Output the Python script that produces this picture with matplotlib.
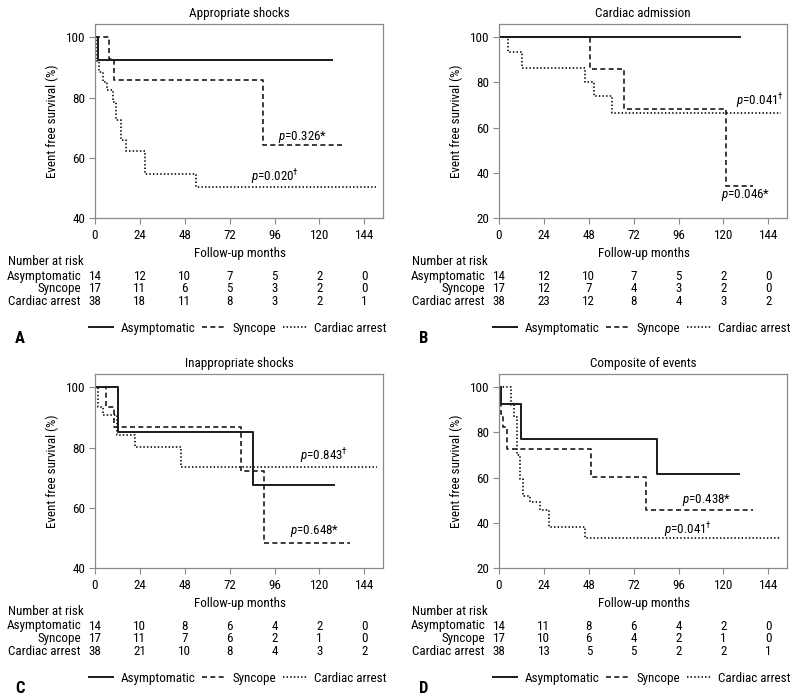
"""
Kaplan-Meier curves by presentation group, with number-at-risk tables (panels A-D)
"""
import matplotlib
matplotlib.use("Agg")
import matplotlib.pyplot as plt
from matplotlib.lines import Line2D

FONT = "Roboto Condensed"
plt.rcParams["font.family"] = [FONT, "DejaVu Sans"]
plt.rcParams["mathtext.fontset"] = "custom"
plt.rcParams["mathtext.rm"] = FONT
plt.rcParams["mathtext.it"] = FONT + ":italic"

W, H = 797, 700
FS = 9.4

# ---- data ----
groups = ["Asymptomatic", "Syncope", "Cardiac arrest"]
x_ticks = [0, 24, 48, 72, 96, 120, 144]

# A: appropriate shocks (months, event-free %; last point = end of follow-up)
a_asym_t = [0, 1.8, 127]
a_asym_s = [100, 92.3, 92.3]
a_sync_t = [0, 7.3, 10.1, 89.6, 133.8]
a_sync_s = [100, 92.7, 85.8, 64.2, 64.2]
a_card_t = [0, 0.7, 2.1, 4.3, 6.6, 9.5, 11.3, 13.7, 16.7, 26.5, 54, 150.4]
a_card_s = [100, 92.1, 88.5, 85.2, 82.4, 78.5, 72.4, 65.8, 62.4, 54.7, 50.2, 50.2]
a_risk = [[14, 12, 10, 7, 5, 2, 0], [17, 11, 6, 5, 3, 2, 0], [38, 18, 11, 8, 3, 2, 1]]

# B: cardiac admission
b_asym_t = [0, 129.5]
b_asym_s = [100, 100]
b_sync_t = [0, 48.9, 66.8, 121.4, 135.8]
b_sync_s = [100, 85.9, 68.3, 34.2, 34.2]
b_card_t = [0, 4.6, 12.1, 46.2, 51, 60.2, 151]
b_card_s = [100, 93.6, 86.5, 80.3, 73.9, 66.7, 66.7]
b_risk = [[14, 12, 10, 7, 5, 2, 0], [17, 12, 7, 4, 3, 2, 0], [38, 23, 12, 8, 4, 3, 2]]

# C: inappropriate shocks
c_asym_t = [0, 12.2, 84.3, 128.3]
c_asym_s = [100, 85.2, 67.5, 67.5]
c_sync_t = [0, 5.7, 10, 78.3, 90.5, 136.2]
c_sync_s = [100, 93.5, 86.9, 72.2, 48.2, 48.2]
c_card_t = [0, 1.8, 4.3, 12, 21.6, 46, 151]
c_card_s = [100, 93.5, 90.8, 84.2, 80.2, 73.5, 73.5]
c_risk = [[14, 10, 8, 6, 4, 2, 0], [17, 11, 7, 6, 2, 1, 0], [38, 21, 10, 8, 4, 3, 2]]

# D: composite of events
d_asym_t = [0, 1.3, 11.8, 84.7, 129]
d_asym_s = [100, 92.4, 76.9, 61.5, 61.5]
d_sync_t = [0, 1.2, 2.3, 4.1, 49, 78.8, 135.8]
d_sync_s = [100, 88.2, 82.4, 72.6, 60.3, 45.5, 45.5]
d_card_t = [0, 6.4, 8.2, 9.5, 11.3, 13.1, 16.7, 22, 26.5, 46.2, 151]
d_card_s = [100, 92.1, 86.9, 69.9, 59.5, 52.1, 49.2, 45.5, 38.0, 33.2, 33.2]
d_risk = [[14, 11, 8, 6, 4, 2, 0], [17, 10, 6, 4, 2, 1, 0], [38, 13, 5, 5, 2, 2, 1]]

panels = [
    dict(letter="A", title="Appropriate shocks", left=95, top=24, ylim=(40, 104.4),
         yticks=[40, 60, 80, 100],
         curves=[(a_asym_t, a_asym_s), (a_sync_t, a_sync_s), (a_card_t, a_card_s)],
         risk=a_risk,
         pvals=[(110.9, 66.9, r"$\it{p}$=0.326*"), (96.5, 53.5, r"$\it{p}$=0.020$^{\dagger}$")]),
    dict(letter="B", title="Cardiac admission", left=499, top=24, ylim=(20, 105.9),
         yticks=[20, 40, 60, 80, 100],
         curves=[(b_asym_t, b_asym_s), (b_sync_t, b_sync_s), (b_card_t, b_card_s)],
         risk=b_risk,
         pvals=[(139.5, 71.8, r"$\it{p}$=0.041$^{\dagger}$"), (132, 30.2, r"$\it{p}$=0.046*")]),
    dict(letter="C", title="Inappropriate shocks", left=95, top=374, ylim=(40, 104.4),
         yticks=[40, 60, 80, 100],
         curves=[(c_asym_t, c_asym_s), (c_sync_t, c_sync_s), (c_card_t, c_card_s)],
         risk=c_risk,
         pvals=[(122.6, 77.1, r"$\it{p}$=0.843$^{\dagger}$"), (117.3, 52.4, r"$\it{p}$=0.648*")]),
    dict(letter="D", title="Composite of events", left=499, top=374, ylim=(20, 105.9),
         yticks=[20, 40, 60, 80, 100],
         curves=[(d_asym_t, d_asym_s), (d_sync_t, d_sync_s), (d_card_t, d_card_s)],
         risk=d_risk,
         pvals=[(111, 49.9, r"$\it{p}$=0.438*"), (101, 36.6, r"$\it{p}$=0.041$^{\dagger}$")]),
]

LINE = "#1a1a1a"
SPINE = "#8a8a8a"
styles = [dict(ls="-", lw=1.4),
          dict(ls=(0, (3.0, 2.0)), lw=1.2),
          dict(ls=(0, (0.8, 1.2)), lw=1.3)]

AX_W, AX_H = 288, 194
XMAX = 154


def fx(px):
    return px / W


def fy(py):
    return 1 - py / H


fig = plt.figure(figsize=(W / 100, H / 100), dpi=100)

for p in panels:
    left, top = p["left"], p["top"]
    bottom = top + AX_H
    ax = fig.add_axes([fx(left), fy(bottom), AX_W / W, AX_H / H])

    for (t, s), st in zip(p["curves"], styles):
        ax.step(t, s, where="post", color=LINE, solid_capstyle="butt", **st)

    ax.set_xlim(0, XMAX)
    ax.set_ylim(*p["ylim"])
    ax.set_xticks(x_ticks)
    ax.set_yticks(p["yticks"])
    ax.tick_params(axis="both", labelsize=FS, color=SPINE, length=4, width=0.8,
                   direction="out", pad=3)
    ax.tick_params(axis="x", length=4, pad=4)
    for sp in ax.spines.values():
        sp.set_color(SPINE)
        sp.set_linewidth(0.9)
    ax.set_title(p["title"], fontsize=FS, pad=5)
    ax.set_ylabel("Event free survival (%)", fontsize=FS, labelpad=5)

    for x, y, txt in p["pvals"]:
        ax.text(x, y, txt, fontsize=FS, ha="center", va="center")

    # x label and number at risk table
    fig.text(fx(left + 144.5), fy(bottom + 35), "Follow-up months", fontsize=FS,
             ha="center", va="center")
    fig.text(fx(left - 87), fy(bottom + 43.5), "Number at risk", fontsize=FS,
             ha="left", va="center")
    for i, (g, row) in enumerate(zip(groups, p["risk"])):
        yy = fy(bottom + 58 + 12.8 * i)
        fig.text(fx(left - 14), yy, g, fontsize=FS, ha="right", va="center")
        for m, n in zip(x_ticks, row):
            xpx = left + AX_W * m / XMAX
            fig.text(fx(xpx), yy, str(n), fontsize=FS, ha="center", va="center")

    # legend
    handles = [Line2D([], [], color=LINE, **st) for st in styles]
    fig.legend(handles, groups, loc="center", ncol=3, frameon=False, fontsize=FS,
               bbox_to_anchor=(fx(left + 143), fy(bottom + 110.5)),
               handlelength=1.8, handletextpad=0.6, columnspacing=0.5, borderpad=0)

    fig.text(fx(left - 80), fy(bottom + 120.5), p["letter"], fontsize=12,
             fontweight="bold", ha="left", va="center")

fig.savefig("out.png", dpi=100, facecolor="white")
